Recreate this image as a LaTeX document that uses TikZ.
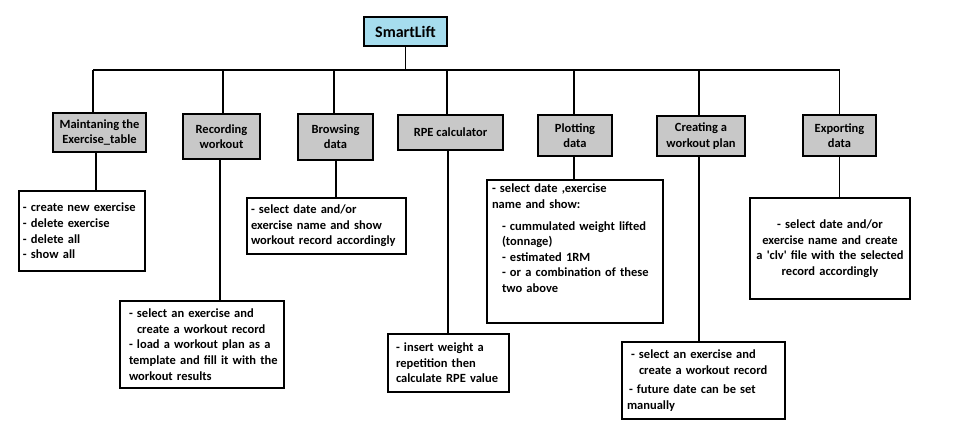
\documentclass[tikz,border=0pt]{standalone}
\usepackage{fontspec}
\setmainfont{Carlito}
\usepackage{tikz}
\usetikzlibrary{positioning,calc}

\definecolor{rootblue}{HTML}{A6DDEE}
\definecolor{catgray}{HTML}{C8C8C8}

\tikzset{
  every node/.style={font=\bfseries\fontsize{12.5}{15.6}\selectfont},
  rootbox/.style={draw, line width=1.8pt, fill=rootblue, inner sep=0pt,
    font=\bfseries\fontsize{16}{18}\selectfont},
  catbox/.style={draw, line width=1.8pt, fill=catgray, align=center, inner sep=0pt,
    font=\bfseries\fontsize{12.5}{15.3}\selectfont},
  infobox/.style={draw, line width=1.4pt, fill=white, align=left, inner xsep=4pt, inner ysep=3pt,
    execute at begin node={\hyphenpenalty=10000\exhyphenpenalty=10000}},
  link/.style={line width=1.4pt}
}

\begin{document}
\begin{tikzpicture}[x=1pt, y=-1pt]
\useasboundingbox (0,0) rectangle (959,445);

% --- root ---
\node[rootbox, minimum width=83pt, minimum height=29pt] (root) at (405.5,31.5) {SmartLift};

% --- categories ---
\node[catbox, minimum width=93pt, minimum height=39pt] (c1) at (99.5,132.5) {Maintaning the\\Exercise\_table};
\node[catbox, minimum width=77pt, minimum height=45pt] (c2) at (221.5,136.5) {Recording\\workout};
\node[catbox, minimum width=75pt, minimum height=46pt] (c3) at (335.5,137) {Browsing\\data};
\node[catbox, minimum width=105pt, minimum height=35pt] (c4) at (450.5,132.5) {RPE calculator};
\node[catbox, minimum width=74pt, minimum height=41pt] (c5) at (575,135.5) {Plotting\\data};
\node[catbox, minimum width=88pt, minimum height=40pt] (c6) at (701,136) {Creating a\\workout plan};
\node[catbox, minimum width=73pt, minimum height=41pt] (c7) at (839.5,135.5) {Exporting\\data};

% --- details ---
\node[infobox, text width=118pt, minimum height=80pt] (d1) at (82,231)
  {-~create~new~exercise\\- delete exercise\\- delete all\\- show all};
\node[infobox, inner xsep=9pt, text width=146pt, minimum height=87pt] (d2) at (202,344.5)
  {-~select~an~exercise~and\\\hspace*{8pt}create~a~workout~record\\-~load~a~workout~plan~as~a\\template~and~fill~it~with~the\\workout results};
\node[infobox, text width=151pt, minimum height=56pt] (d3) at (326.5,226)
  {- select date and/or\\exercise~name~and~show\\workout~record~accordingly};
\node[infobox, inner xsep=8pt, text width=105pt, minimum height=58pt] (d4) at (448.5,363)
  {- insert weight a\\repetition then\\calculate~RPE~value};
\node[infobox, inner xsep=5pt, inner ysep=4pt, text width=166pt, minimum height=143pt, text depth=126pt] (d5) at (575,251.5)
  {- select date ,exercise\\name and show:\\[6pt]
   \hspace*{10pt}-~cummulated~weight~lifted\\\hspace*{10pt}(tonnage)\\\hspace*{10pt}- estimated 1RM\\
   \hspace*{10pt}-~or~a~combination~of~these\\\hspace*{10pt}two above};
\node[infobox, inner xsep=5pt, text width=153pt, minimum height=77pt] (d6) at (703.5,380.5)
  {\hspace*{4pt}-~select~an~exercise~and\\\hspace*{12pt}create~a~workout~record\\[4pt]
   \hspace*{2pt}-~future~date~can~be~set\\manually};
\node[infobox, align=center, text width=152pt, minimum height=101pt] (d7) at (830,248.5)
  {- select date and/or\\exercise~name~and~create\\a~\textquotesingle clv\textquotesingle{}~file~with~the~selected\\record accordingly};

% --- connectors ---
\draw[link] (root.south) -- ++(0,23) coordinate (bus);
\draw[link] ([xshift=-6.5pt]c1.north |- bus) -- (c7.north |- bus);
\foreach \i/\dx/\dy in {1/-6.5/-3.5, 2/1.5/-1.5, 3/-1.5/0.5, 4/-3.5/-2.5, 5/-1/-1, 6/-2/-2, 7/0/0} {
  \draw[link] ([xshift=\dx pt]c\i.north |- bus) -- ([xshift=\dx pt]c\i.north);
  \draw[link] ([xshift=\dy pt]c\i.south) -- ([xshift=\dy pt]c\i.south |- d\i.north);
}

\end{tikzpicture}
\end{document}
